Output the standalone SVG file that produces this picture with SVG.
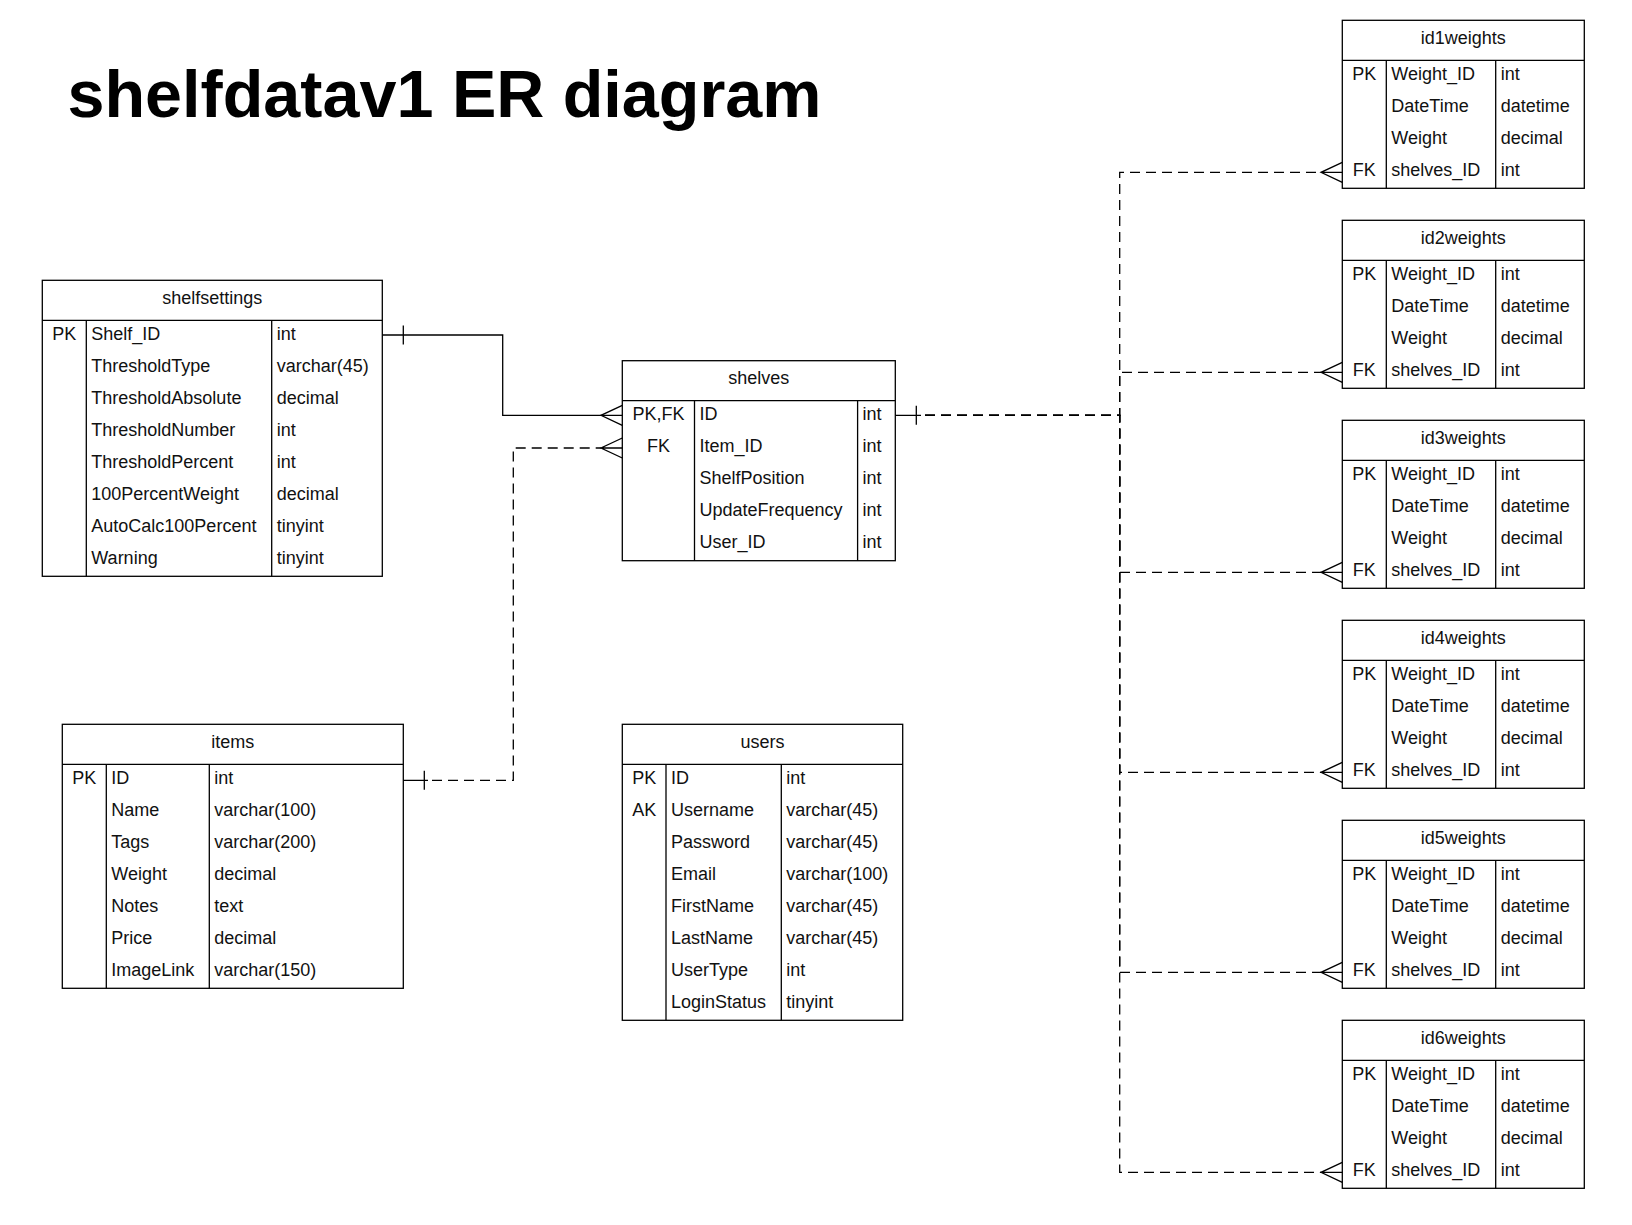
<svg xmlns="http://www.w3.org/2000/svg" width="1632" height="1225" viewBox="0 0 1632 1225">
<style>
.bx{fill:#fff;stroke:#000;stroke-width:1.3}
.ln{fill:none;stroke:#000;stroke-width:1.3}
.t{font-family:"Liberation Sans",Arial,sans-serif;font-size:18px;fill:#111}
.c{text-anchor:middle}
.title{font-family:"Liberation Sans",Arial,sans-serif;font-size:66.5px;font-weight:bold;fill:#000}
.solid{fill:none;stroke:#000;stroke-width:1.3}
.dash{fill:none;stroke:#000;stroke-width:1.3;stroke-dasharray:10 6}
</style>
<rect width="1632" height="1225" fill="#fff"/>
<text class="title" x="67.5" y="117">shelfdatav1 ER diagram</text>

<g id="shelfsettings">
<rect class="bx" x="42.3" y="280.3" width="340" height="296"/>
<path class="ln" d="M42.3 320.3H382.3M86.3 320.3V576.3M271.7 320.3V576.3"/>
<text class="t c" x="212.3" y="304">shelfsettings</text>
<text class="t c" x="64.3" y="339.6">PK</text>
<text class="t" x="91.3" y="339.6">Shelf_ID</text><text class="t" x="276.7" y="339.6">int</text>
<text class="t" x="91.3" y="371.6">ThresholdType</text><text class="t" x="276.7" y="371.6">varchar(45)</text>
<text class="t" x="91.3" y="403.6">ThresholdAbsolute</text><text class="t" x="276.7" y="403.6">decimal</text>
<text class="t" x="91.3" y="435.6">ThresholdNumber</text><text class="t" x="276.7" y="435.6">int</text>
<text class="t" x="91.3" y="467.6">ThresholdPercent</text><text class="t" x="276.7" y="467.6">int</text>
<text class="t" x="91.3" y="499.6">100PercentWeight</text><text class="t" x="276.7" y="499.6">decimal</text>
<text class="t" x="91.3" y="531.6">AutoCalc100Percent</text><text class="t" x="276.7" y="531.6">tinyint</text>
<text class="t" x="91.3" y="563.6">Warning</text><text class="t" x="276.7" y="563.6">tinyint</text>
</g>

<g id="shelves">
<rect class="bx" x="622.3" y="360.7" width="273" height="200"/>
<path class="ln" d="M622.3 400.7H895.3M694.5 400.7V560.7M857.6 400.7V560.7"/>
<text class="t c" x="758.8" y="384.4">shelves</text>
<text class="t c" x="658.4" y="420">PK,FK</text>
<text class="t c" x="658.4" y="452">FK</text>
<text class="t" x="699.5" y="420">ID</text><text class="t" x="862.6" y="420">int</text>
<text class="t" x="699.5" y="452">Item_ID</text><text class="t" x="862.6" y="452">int</text>
<text class="t" x="699.5" y="484">ShelfPosition</text><text class="t" x="862.6" y="484">int</text>
<text class="t" x="699.5" y="516">UpdateFrequency</text><text class="t" x="862.6" y="516">int</text>
<text class="t" x="699.5" y="548">User_ID</text><text class="t" x="862.6" y="548">int</text>
</g>

<g id="items">
<rect class="bx" x="62.3" y="724.3" width="341" height="264"/>
<path class="ln" d="M62.3 764.3H403.3M106.3 764.3V988.3M209.3 764.3V988.3"/>
<text class="t c" x="232.8" y="748">items</text>
<text class="t c" x="84.3" y="783.6">PK</text>
<text class="t" x="111.3" y="783.6">ID</text><text class="t" x="214.3" y="783.6">int</text>
<text class="t" x="111.3" y="815.6">Name</text><text class="t" x="214.3" y="815.6">varchar(100)</text>
<text class="t" x="111.3" y="847.6">Tags</text><text class="t" x="214.3" y="847.6">varchar(200)</text>
<text class="t" x="111.3" y="879.6">Weight</text><text class="t" x="214.3" y="879.6">decimal</text>
<text class="t" x="111.3" y="911.6">Notes</text><text class="t" x="214.3" y="911.6">text</text>
<text class="t" x="111.3" y="943.6">Price</text><text class="t" x="214.3" y="943.6">decimal</text>
<text class="t" x="111.3" y="975.6">ImageLink</text><text class="t" x="214.3" y="975.6">varchar(150)</text>
</g>

<g id="users">
<rect class="bx" x="622.3" y="724.3" width="280.4" height="296"/>
<path class="ln" d="M622.3 764.3H902.7M666 764.3V1020.3M781.3 764.3V1020.3"/>
<text class="t c" x="762.5" y="748">users</text>
<text class="t c" x="644.2" y="783.6">PK</text>
<text class="t c" x="644.2" y="815.6">AK</text>
<text class="t" x="671" y="783.6">ID</text><text class="t" x="786.3" y="783.6">int</text>
<text class="t" x="671" y="815.6">Username</text><text class="t" x="786.3" y="815.6">varchar(45)</text>
<text class="t" x="671" y="847.6">Password</text><text class="t" x="786.3" y="847.6">varchar(45)</text>
<text class="t" x="671" y="879.6">Email</text><text class="t" x="786.3" y="879.6">varchar(100)</text>
<text class="t" x="671" y="911.6">FirstName</text><text class="t" x="786.3" y="911.6">varchar(45)</text>
<text class="t" x="671" y="943.6">LastName</text><text class="t" x="786.3" y="943.6">varchar(45)</text>
<text class="t" x="671" y="975.6">UserType</text><text class="t" x="786.3" y="975.6">int</text>
<text class="t" x="671" y="1007.6">LoginStatus</text><text class="t" x="786.3" y="1007.6">tinyint</text>
</g>

<defs>
<g id="wtable">
<rect class="bx" x="1342.3" y="0" width="242" height="168"/>
<path class="ln" d="M1342.3 40H1584.3M1386.3 40V168M1495.7 40V168"/>
<text class="t c" x="1364.3" y="59.6">PK</text>
<text class="t c" x="1364.3" y="155.6">FK</text>
<text class="t" x="1391.3" y="59.6">Weight_ID</text><text class="t" x="1500.7" y="59.6">int</text>
<text class="t" x="1391.3" y="91.6">DateTime</text><text class="t" x="1500.7" y="91.6">datetime</text>
<text class="t" x="1391.3" y="123.6">Weight</text><text class="t" x="1500.7" y="123.6">decimal</text>
<text class="t" x="1391.3" y="155.6">shelves_ID</text><text class="t" x="1500.7" y="155.6">int</text>
</g>
</defs>

<g id="id1weights" transform="translate(0,20.3)"><use href="#wtable"/><text class="t c" x="1463.3" y="23.7">id1weights</text></g>
<g id="id2weights" transform="translate(0,220.3)"><use href="#wtable"/><text class="t c" x="1463.3" y="23.7">id2weights</text></g>
<g id="id3weights" transform="translate(0,420.3)"><use href="#wtable"/><text class="t c" x="1463.3" y="23.7">id3weights</text></g>
<g id="id4weights" transform="translate(0,620.3)"><use href="#wtable"/><text class="t c" x="1463.3" y="23.7">id4weights</text></g>
<g id="id5weights" transform="translate(0,820.3)"><use href="#wtable"/><text class="t c" x="1463.3" y="23.7">id5weights</text></g>
<g id="id6weights" transform="translate(0,1020.3)"><use href="#wtable"/><text class="t c" x="1463.3" y="23.7">id6weights</text></g>

<g id="connectors">
<path class="solid" d="M382.3 335H502.7V415.3H622.3"/>
<path class="solid" d="M403.3 325.5V344.5"/>
<path class="solid" d="M622.3 405.3L601 415.3L622.3 425.3"/>
<path class="solid" d="M403.3 780.3H428M424.3 770.8V789.8"/>
<path class="dash" d="M432 780.3H513.3V448H601"/>
<path class="solid" d="M601 448H622.3M622.3 438L601 448L622.3 458"/>
<path class="solid" d="M895.3 415.3H921M916.3 405.8V424.8"/>
<path class="dash" d="M925 415.3H1119.7V172.3H1321"/>
<path class="dash" d="M925 415.3H1119.7V372.3H1321"/>
<path class="dash" d="M925 415.3H1119.7V572.3H1321"/>
<path class="dash" d="M925 415.3H1119.7V772.3H1321"/>
<path class="dash" d="M925 415.3H1119.7V972.3H1321"/>
<path class="dash" d="M925 415.3H1119.7V1172.3H1321"/>
<path class="solid" d="M1321 172.3H1342.3M1342.3 162.3L1321 172.3L1342.3 182.3"/>
<path class="solid" d="M1321 372.3H1342.3M1342.3 362.3L1321 372.3L1342.3 382.3"/>
<path class="solid" d="M1321 572.3H1342.3M1342.3 562.3L1321 572.3L1342.3 582.3"/>
<path class="solid" d="M1321 772.3H1342.3M1342.3 762.3L1321 772.3L1342.3 782.3"/>
<path class="solid" d="M1321 972.3H1342.3M1342.3 962.3L1321 972.3L1342.3 982.3"/>
<path class="solid" d="M1321 1172.3H1342.3M1342.3 1162.3L1321 1172.3L1342.3 1182.3"/>
</g>
</svg>
